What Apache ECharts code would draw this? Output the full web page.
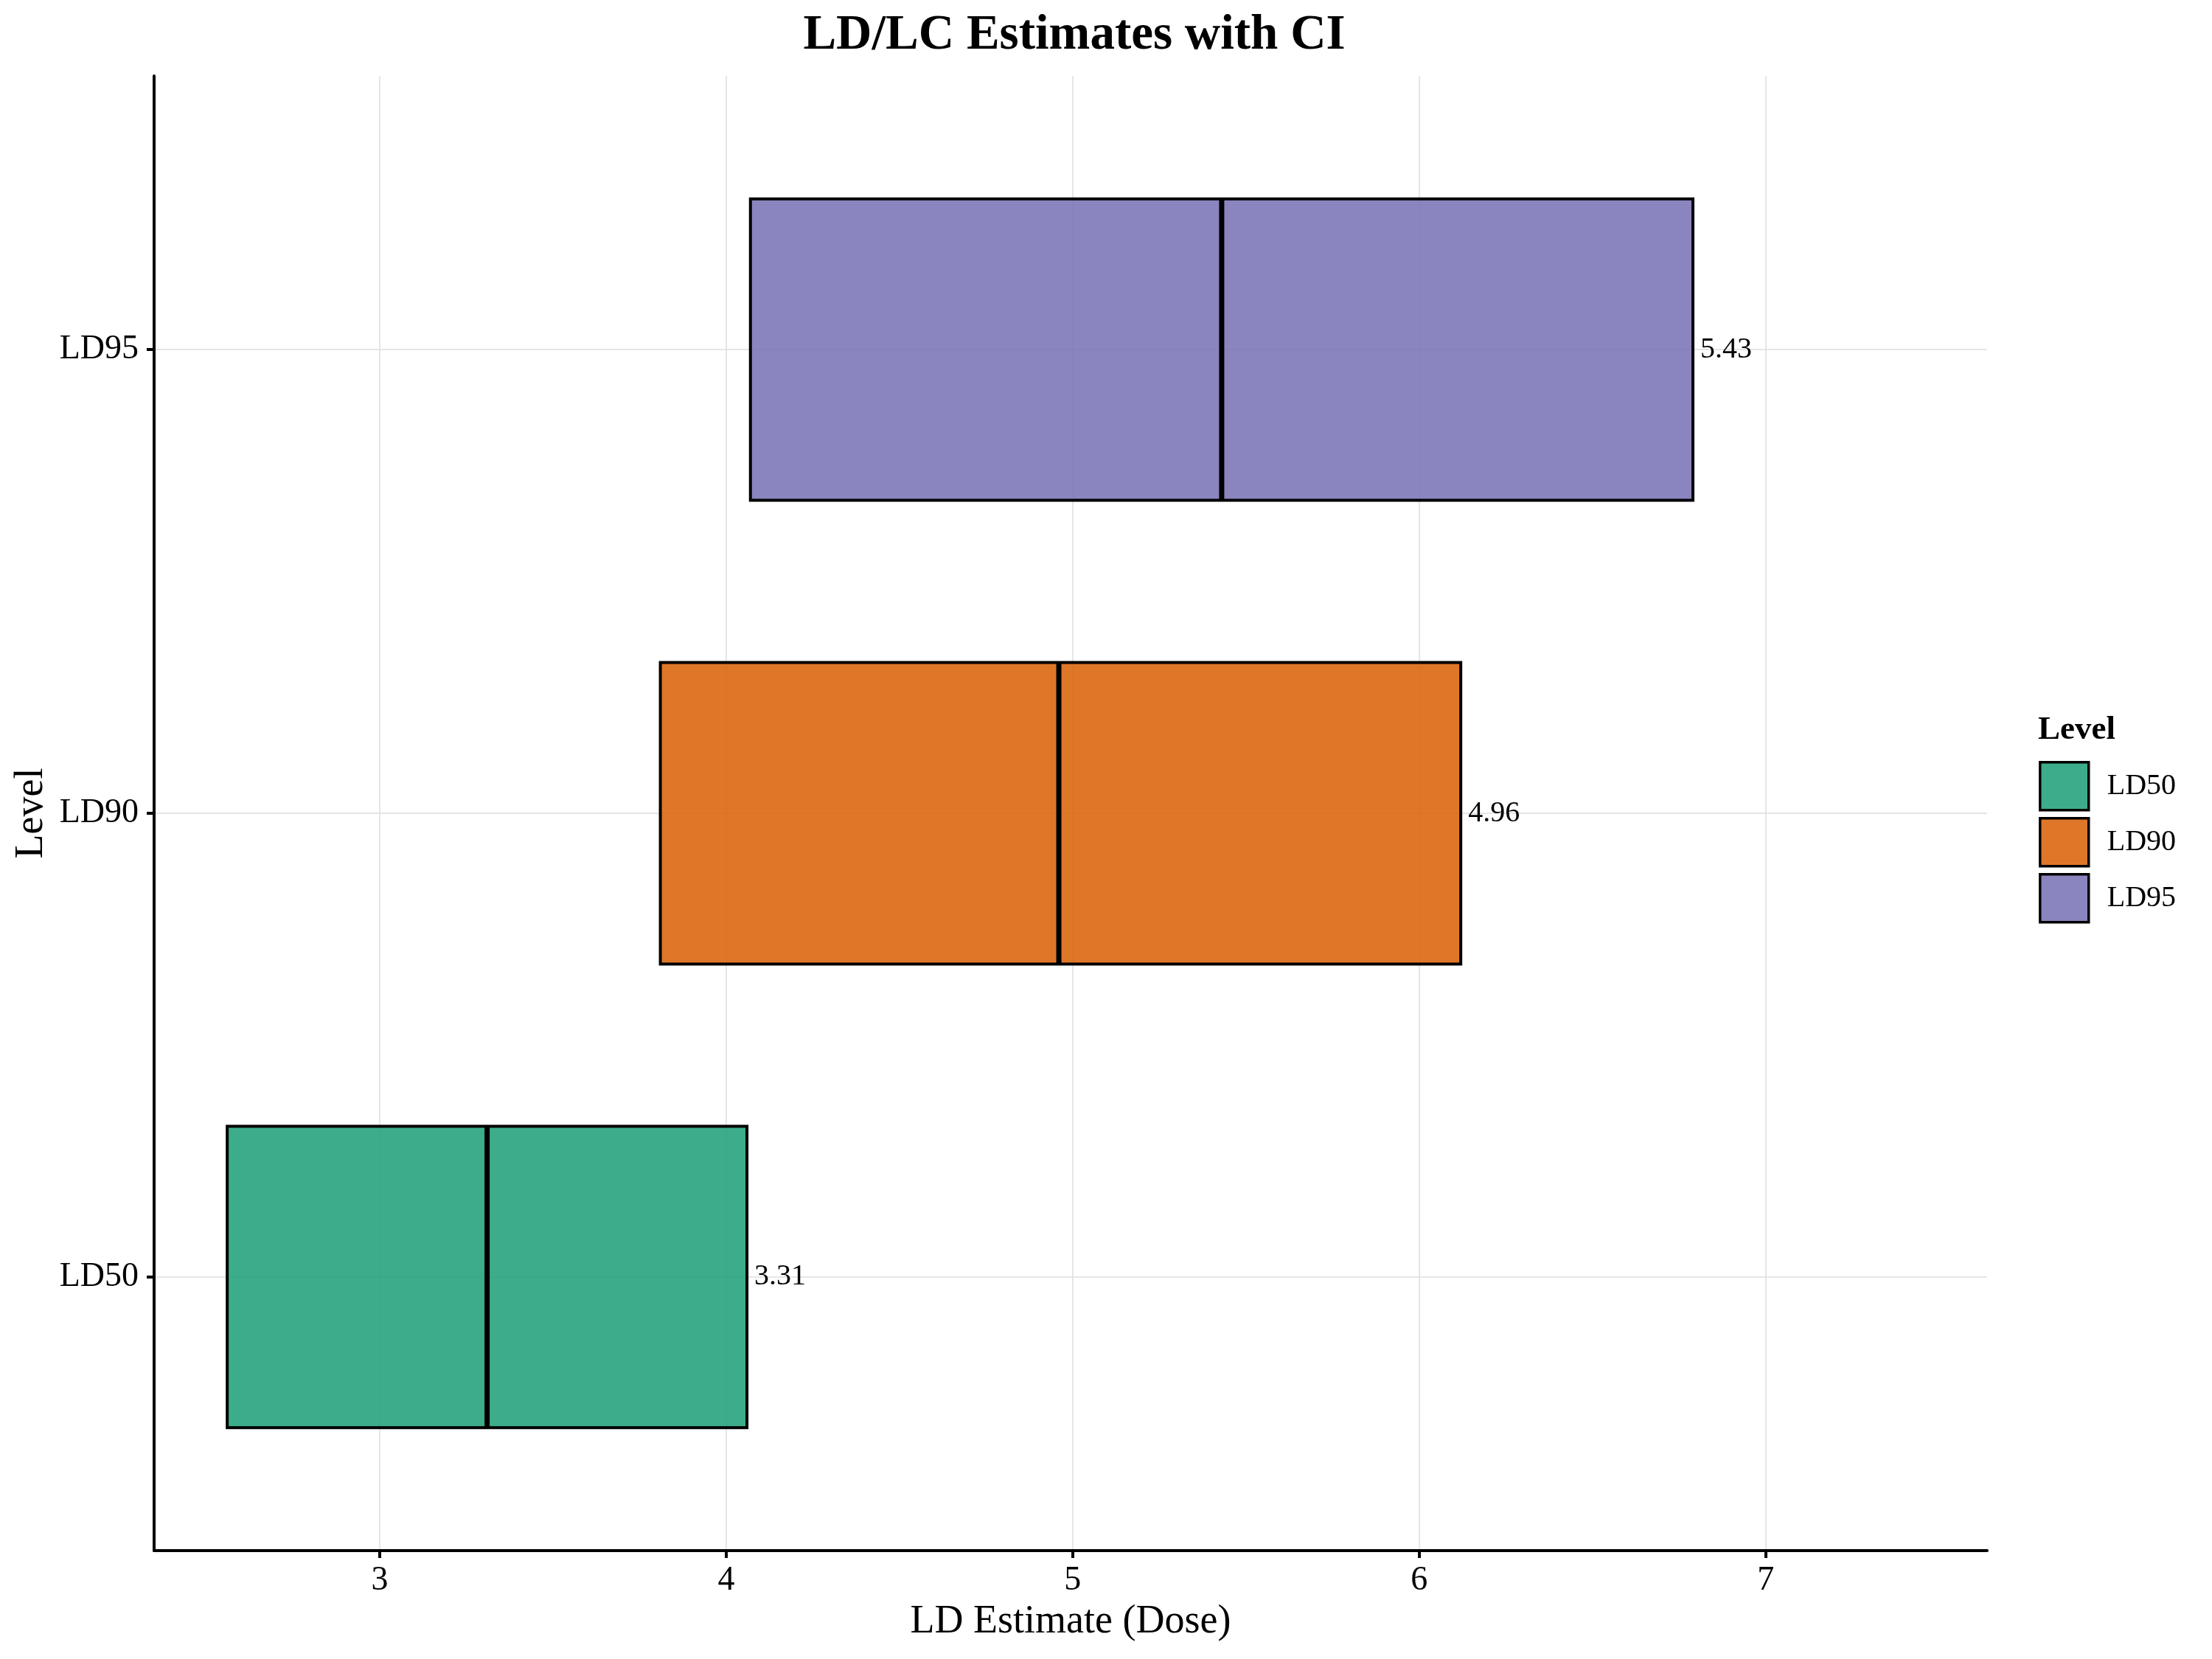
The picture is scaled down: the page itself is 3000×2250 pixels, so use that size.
<!DOCTYPE html>
<html lang="en" style="height: 100%">

<head>
  <meta charset="utf-8">
</head>

<body style="height: 100%; margin: 0">
  <div id="container" style="height: 100%"></div>

  <script type="text/javascript" src="https://fastly.jsdelivr.net/npm/echarts@6.0.0/dist/echarts.min.js"></script>
  <script type="text/javascript">
    // data
    var levels = ['LD50', 'LD90', 'LD95'];
    var lower = [2.56, 3.81, 4.07];
    var estimate = [3.31, 4.96, 5.43];
    var upper = [4.06, 6.12, 6.79];
    var xTicks = [3, 4, 5, 6, 7];
    var yTicks = [1, 2, 3];

    var colors = ['#1B9E77', '#D95F02', '#7570B3'];
    var FONT = '"Liberation Serif", "Times New Roman", serif';
    var HALF = 0.325; // half height of each box, in category units

    var dom = document.getElementById('container');
    var myChart = echarts.init(dom, null, {
      renderer: 'canvas',
      useDirtyRect: false
    });

    var option;

    function renderBox(params, api) {
      var y = api.value(0);
      var lo = api.value(1);
      var est = api.value(2);
      var hi = api.value(3);
      var tl = api.coord([lo, y + HALF]);
      var br = api.coord([hi, y - HALF]);
      var mid = api.coord([est, y]);
      return {
        type: 'group',
        children: [
          {
            type: 'rect',
            shape: { x: tl[0], y: tl[1], width: br[0] - tl[0], height: br[1] - tl[1] },
            style: { fill: api.visual('color'), stroke: '#000', lineWidth: 4 }
          },
          {
            type: 'line',
            shape: { x1: mid[0], y1: tl[1], x2: mid[0], y2: br[1] },
            style: { stroke: '#000', lineWidth: 7 }
          },
          {
            type: 'text',
            style: {
              x: br[0] + 10,
              y: mid[1],
              text: est.toFixed(2),
              fill: '#000',
              fontSize: 40,
              fontFamily: FONT,
              align: 'left',
              verticalAlign: 'middle'
            }
          }
        ]
      };
    }

    var series = levels.map(function (name, i) {
      return {
        name: name,
        type: 'custom',
        renderItem: renderBox,
        itemStyle: { color: echarts.color.modifyAlpha(colors[i], 0.85) },
        encode: { x: [1, 2, 3], y: 0 },
        data: [[i + 1, lower[i], estimate[i], upper[i]]]
      };
    });

    option = {
      backgroundColor: '#fff',
      animation: false,
      textStyle: { fontFamily: FONT },
      title: {
        text: 'LD/LC Estimates with CI',
        left: 1452,
        top: 10,
        textAlign: 'center',
        textStyle: { fontFamily: FONT, fontSize: 67, fontWeight: 'bold', color: '#000' }
      },
      graphic: [
        {
          type: 'text',
          left: 2764,
          top: 968,
          style: { text: 'Level', fontFamily: FONT, fontSize: 45, fontWeight: 'bold', fill: '#000' }
        }
      ],
      legend: {
        orient: 'vertical',
        left: 2765,
        top: 1032,
        padding: 0,
        itemWidth: 66,
        itemHeight: 65,
        itemGap: 7.5,
        icon: 'rect',
        itemStyle: { borderColor: '#000', borderWidth: 3.5 },
        textStyle: { fontFamily: FONT, fontSize: 40, color: '#000', padding: [0, 0, 0, 20] },
        data: levels
      },
      grid: {
        left: 209,
        right: 305,
        top: 103,
        bottom: 147,
        containLabel: false
      },
      xAxis: {
        type: 'value',
        min: 2.349,
        max: 7.639,
        name: 'LD Estimate (Dose)',
        nameLocation: 'middle',
        nameGap: 70,
        nameTextStyle: { fontFamily: FONT, fontSize: 54, color: '#000' },
        axisLine: { show: true, lineStyle: { color: '#000', width: 4 } },
        axisTick: { show: true, length: 10, customValues: xTicks, lineStyle: { color: '#000', width: 4 } },
        axisLabel: { customValues: xTicks, margin: 18, fontFamily: FONT, fontSize: 46, color: '#000' },
        splitLine: { show: true, lineStyle: { color: '#dedede', width: 1.5 } }
      },
      yAxis: {
        type: 'value',
        min: 0.41,
        max: 3.59,
        name: 'Level',
        nameLocation: 'middle',
        nameGap: 137,
        nameTextStyle: { fontFamily: FONT, fontSize: 54, color: '#000' },
        axisLine: { show: true, lineStyle: { color: '#000', width: 4 } },
        axisTick: { show: true, length: 10, customValues: yTicks, lineStyle: { color: '#000', width: 4 } },
        axisLabel: {
          customValues: yTicks,
          margin: 21,
          fontFamily: FONT,
          fontSize: 46,
          color: '#000',
          formatter: function (v) { return levels[Math.round(v) - 1]; }
        },
        splitLine: { show: true, lineStyle: { color: '#dedede', width: 1.5 } }
      },
      series: series
    };

    if (option && typeof option === 'object') {
      myChart.setOption(option);
    }

    window.addEventListener('resize', myChart.resize);
  </script>
</body>

</html>
